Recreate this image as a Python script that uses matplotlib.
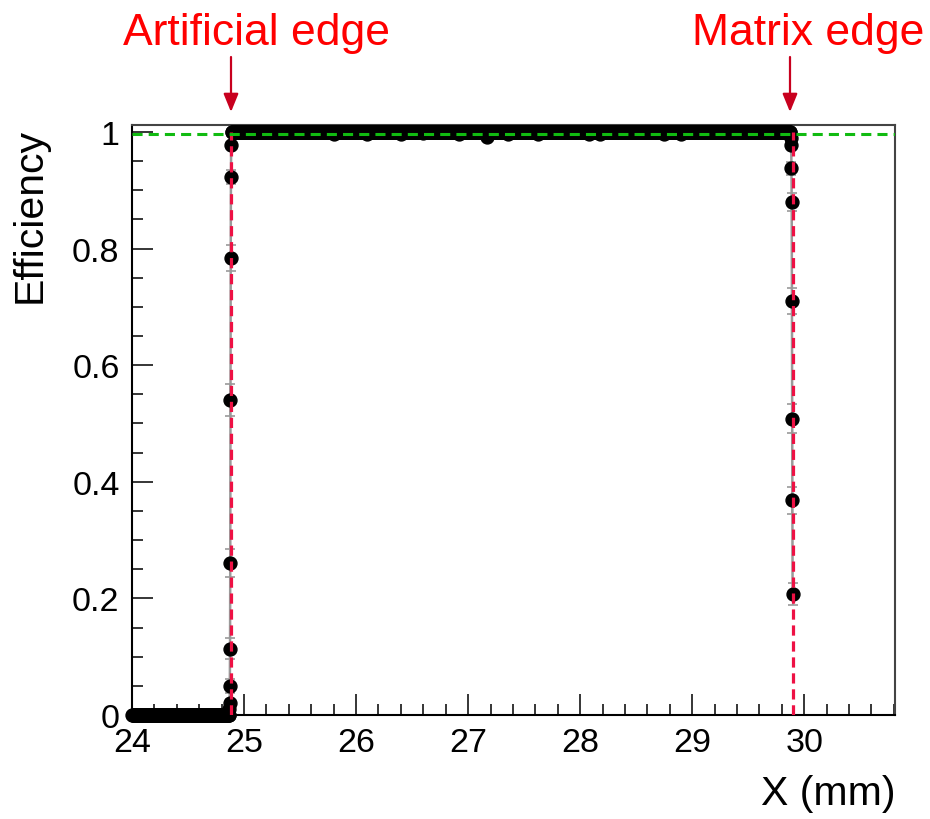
import numpy as np
import matplotlib
matplotlib.use("Agg")
import matplotlib.pyplot as plt
from matplotlib.ticker import MultipleLocator, FormatStrFormatter

plt.rcParams['font.family'] = ['Liberation Sans', 'DejaVu Sans']

# ---------------- data ----------------
BIN = 0.005  # mm, bin width of the scan

# region before the artificial edge: efficiency 0
x_zero = np.arange(24.0, 24.866, BIN)
eff_zero_value = 0.0

# rising (artificial) edge
x_rise = [24.867, 24.869, 24.871, 24.873, 24.875, 24.877, 24.879, 24.881, 24.883, 24.885]
eff_rise = [0.0, 0.01, 0.02, 0.05, 0.114, 0.26, 0.54, 0.784, 0.922, 0.977]
err_rise = [0.002, 0.005, 0.008, 0.012, 0.018, 0.024, 0.027, 0.022, 0.012, 0.006]

# plateau
x_plateau = np.arange(24.89, 29.88, BIN)
eff_plateau_value = 1.0
dip_x = [25.80, 26.10, 26.40, 26.60, 26.92, 27.17, 27.36, 27.62, 28.08, 28.18, 28.75, 28.90]
dip_eff = [0.997, 0.997, 0.997, 0.998, 0.997, 0.992, 0.997, 0.997, 0.997, 0.997, 0.997, 0.997]

# falling (matrix) edge
x_fall = [29.882, 29.884, 29.886, 29.888, 29.890, 29.892, 29.894, 29.896]
eff_fall = [0.99, 0.977, 0.938, 0.88, 0.71, 0.508, 0.368, 0.208]
err_fall = [0.004, 0.007, 0.011, 0.016, 0.022, 0.025, 0.023, 0.019]

artificial_edge_x = 24.88
matrix_edge_x = 29.90
plateau_fit = 0.996

xticks = [24, 25, 26, 27, 28, 29, 30]
yticks = [0, 0.2, 0.4, 0.6, 0.8, 1.0]

# ---------------- assemble ----------------
eff_zero = np.full(len(x_zero), eff_zero_value)
eff_plat = np.full(len(x_plateau), eff_plateau_value)
for dx, de in zip(dip_x, dip_eff):
    i = np.argmin(np.abs(x_plateau - dx))
    eff_plat[i] = de

x_all = np.concatenate([x_zero, x_rise, x_plateau, x_fall])
y_all = np.concatenate([eff_zero, eff_rise, eff_plat, eff_fall])
e_all = np.concatenate([np.full(len(x_zero), 0.001), err_rise,
                        np.where(eff_plat < 1, 0.004, 0.002), err_fall])

# ---------------- figure ----------------
fig = plt.figure(figsize=(9.3, 8.2), dpi=100)
ax = fig.add_axes([132/930, 104/820, 763/930, 590/820])
ax.set_xlim(24, 30.81)
ax.set_ylim(0, 1.012)

# connecting grey line
ax.plot(x_all, y_all, color='#9a9a9a', lw=1.8, zorder=2, clip_on=False)
# error bars
ax.errorbar(x_all, y_all, yerr=e_all, fmt='none', ecolor='#9a9a9a',
            elinewidth=1.2, capsize=3.5, capthick=1.2, zorder=2, clip_on=False)
# markers
ax.plot(x_all, y_all, 'o', color='black', ms=9.3, mec='black', zorder=3, clip_on=False)

# edges and plateau
ax.plot([artificial_edge_x, artificial_edge_x], [0, 1.0], color='#ee1144',
        lw=2.3, dashes=(3.2, 1.8), zorder=5)
ax.plot([matrix_edge_x, matrix_edge_x], [0, 1.0], color='#ee1144',
        lw=2.3, dashes=(3.2, 1.8), zorder=5)
ax.axhline(plateau_fit, color='#11bb11', lw=2.2, dashes=(3.3, 2.0), zorder=5)

# axes style (ROOT-like)
ax.set_xticks(xticks)
ax.set_yticks(yticks)
ax.xaxis.set_minor_locator(MultipleLocator(0.2))
ax.yaxis.set_minor_locator(MultipleLocator(0.05))
ax.yaxis.set_major_formatter(FormatStrFormatter('%g'))
ax.tick_params(which='major', direction='in', length=15, width=1.1, labelsize=24.5,
               top=False, right=False)
ax.tick_params(which='minor', direction='in', length=8, width=1.1,
               top=False, right=False)
ax.tick_params(axis='y', which='major', pad=9)
ax.tick_params(axis='x', which='major', pad=9)
for s in ['left', 'bottom']:
    ax.spines[s].set_linewidth(1.5)
    ax.spines[s].set_color('black')
for s in ['top', 'right']:
    ax.spines[s].set_linewidth(1.5)
    ax.spines[s].set_color('#444444')

# axis titles
fig.text(30/930, 1 - 128/820, 'Efficiency', rotation=90, ha='center', va='top',
         fontsize=29.5)
fig.text(895/930, 1 - 794/820, 'X (mm)', ha='right', va='center', fontsize=29.5)

# annotations
fig.text(256/930, 1 - 45/820, 'Artificial edge', ha='center', va='baseline',
         fontsize=32, color='#ff0000')
fig.text(808/930, 1 - 45/820, 'Matrix edge', ha='center', va='baseline',
         fontsize=32, color='#ff0000')
for xp in (231, 790):
    fig.add_artist(matplotlib.patches.FancyArrowPatch(
        (xp/930, 1 - 58/820), (xp/930, 1 - 113/820), transform=fig.transFigure,
        arrowstyle='-|>,head_length=11,head_width=4.5', color='#c8001e', lw=1.6,
        shrinkA=0, shrinkB=0))

fig.savefig('out.png', dpi=100)
